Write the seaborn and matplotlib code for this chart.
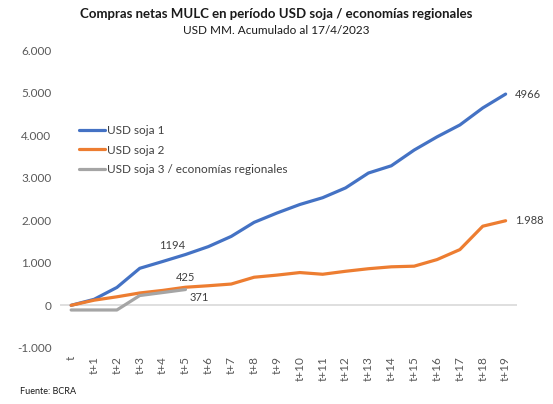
import pandas as pd
import numpy as np
import matplotlib
matplotlib.use("Agg")
import matplotlib.pyplot as plt
import seaborn as sns

periods = ["t"] + ["t+%d" % i for i in range(1, 20)]
soja1 = [0, 140, 420, 870, 1030, 1194, 1380, 1620, 1950, 2170, 2370, 2530,
         2760, 3110, 3280, 3650, 3960, 4240, 4640, 4966]
soja2 = [0, 120, 200, 290, 350, 425, 460, 500, 660, 710, 770, 730,
         800, 860, 905, 920, 1075, 1310, 1860, 1988]
soja3 = [-110, -110, -110, 230, 300, 371]

names = ["USD soja 1", "USD soja 2", "USD soja 3 / economías regionales"]
colors = ["#4472C4", "#ED7D31", "#A5A5A5"]

sns.set_theme(style="white")
plt.rcParams['font.family'] = ['Lato', 'DejaVu Sans']

fig = plt.figure(figsize=(5.53, 4.04), dpi=100)
ax = fig.add_axes([0.108, 0.139, 0.827, 0.737])

ax.axhline(0, color="#D9D9D9", lw=1.2, zorder=1)

for name, vals, c in zip(names, [soja1, soja2, soja3], colors):
    d = pd.DataFrame({"x": range(len(vals)), "y": vals})
    sns.lineplot(data=d, x="x", y="y", ax=ax, color=c, lw=2.3, label=name, zorder=3)

ax.set_xlim(-0.5, 19.5)
ax.set_ylim(-1000, 6000)
ax.set_xticks(range(len(periods)))
ax.set_xticklabels(periods, rotation=90, fontsize=8.5, color="#595959")
ax.set_yticks(range(-1000, 6001, 1000))
ax.set_yticklabels([f"{v:,}".replace(",", ".") for v in range(-1000, 6001, 1000)],
                   fontsize=8.5, color="#595959")
ax.set_xlabel("")
ax.set_ylabel("")
ax.tick_params(axis="both", length=0, pad=6)
for s in ax.spines.values():
    s.set_visible(False)

# data labels
ax.text(5, soja1[5] + 90, "1194", ha="right", va="bottom", fontsize=8, color="#404040")
ax.text(5, soja2[5] + 90, "425", ha="center", va="bottom", fontsize=8, color="#404040")
ax.text(5.6, soja3[5] - 60, "371", ha="center", va="top", fontsize=8, color="#404040")
ax.text(19.4, soja1[-1], "4966", ha="left", va="center", fontsize=8, color="#404040")
ax.text(19.4, soja2[-1], "1.988", ha="left", va="center", fontsize=8, color="#404040")

leg = ax.legend(loc="upper left", bbox_to_anchor=(0.02, 0.785), frameon=False,
                fontsize=8.5, handlelength=2.2, handletextpad=0.1, labelspacing=0.75)
for t in leg.get_texts():
    t.set_color("#404040")

fig.text(0.5, 0.955, "Compras netas MULC en período USD soja / economías regionales",
         ha="center", fontsize=9.5, fontweight="bold", color="#1a1a1a")
fig.text(0.5, 0.915, "USD MM. Acumulado al 17/4/2023", ha="center", fontsize=8.5, color="#1a1a1a")
fig.text(0.036, 0.025, "Fuente: BCRA", fontsize=6.5, color="#1a1a1a")

fig.savefig("out.png", dpi=100)
